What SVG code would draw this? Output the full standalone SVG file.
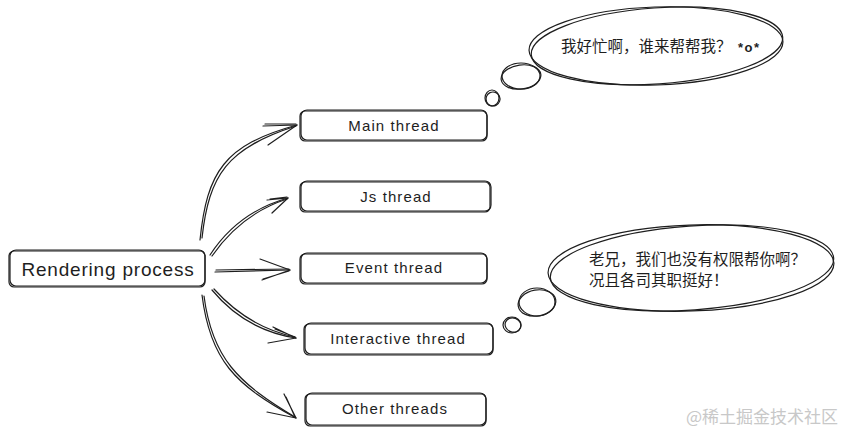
<svg xmlns="http://www.w3.org/2000/svg" width="844" height="433" viewBox="0 0 844 433">
<style>
.s{fill:none;stroke:#1e1e1e;stroke-width:1.2;stroke-linecap:round;stroke-linejoin:round}
.t{font-family:"Liberation Sans","DejaVu Sans",sans-serif;fill:#1e1e1e;text-anchor:middle}
.c{font-family:"Noto Sans CJK SC",sans-serif;fill:#1e1e1e;font-size:15.5px}
</style>
<rect width="844" height="433" fill="#ffffff"/>
<g id="connectors">
  <g id="arrow-main">
    <path class="s" d="M200,240 C207,172 224,145 297,125"/>
    <path class="s" d="M202,238 C209,175 227,148 296,126"/>
    <path class="s" d="M297,125 L263,126 M297,125 L268,145 M296,124 L265,124"/>
  </g>
  <g id="arrow-js">
    <path class="s" d="M210,255 Q238,212 288,198"/>
    <path class="s" d="M212,256 Q241,214 287,199"/>
    <path class="s" d="M288,198 L267,200 M288,198 L272,213 M287,197 L270,199"/>
  </g>
  <g id="arrow-event">
    <path class="s" d="M215,272 L290,270"/>
    <path class="s" d="M216,270 L289,269"/>
    <path class="s" d="M290,270 L260,259 M290,270 L262,280 M289,271 L263,279"/>
  </g>
  <g id="arrow-interactive">
    <path class="s" d="M212,290 Q245,330 296,338"/>
    <path class="s" d="M214,289 Q248,327 295,337"/>
    <path class="s" d="M296,338 L273,327 M296,338 L268,343 M295,337 L275,329"/>
  </g>
  <g id="arrow-other">
    <path class="s" d="M202,295 C210,360 235,385 296,418"/>
    <path class="s" d="M204,296 C212,358 238,383 295,417"/>
    <path class="s" d="M296,418 L284,394 M296,418 L267,412 M295,417 L286,397"/>
  </g>
</g>
<g id="node-rendering">
  <rect class="s" x="9" y="251" width="196" height="36" rx="5"/>
  <rect class="s" x="10" y="250" width="195" height="36" rx="6"/>
  <text class="t" x="108" y="276" font-size="19" letter-spacing="0.8">Rendering process</text>
</g>
<g id="node-main">
  <rect class="s" x="300" y="111" width="187" height="30" rx="5"/>
  <rect class="s" x="301" y="110" width="186" height="30" rx="6"/>
  <text class="t" x="394" y="131" font-size="15" letter-spacing="1.1">Main thread</text>
</g>
<g id="node-js">
  <rect class="s" x="300" y="182" width="190" height="30" rx="5"/>
  <rect class="s" x="301" y="181" width="190" height="30" rx="6"/>
  <text class="t" x="396" y="202" font-size="15" letter-spacing="1.1">Js thread</text>
</g>
<g id="node-event">
  <rect class="s" x="300" y="254" width="187" height="30" rx="5"/>
  <rect class="s" x="301" y="253" width="186" height="30" rx="6"/>
  <text class="t" x="394" y="273" font-size="15" letter-spacing="1.1">Event thread</text>
</g>
<g id="node-interactive">
  <rect class="s" x="304" y="324" width="189" height="31" rx="5"/>
  <rect class="s" x="305" y="323" width="188" height="31" rx="6"/>
  <text class="t" x="398" y="344" font-size="15" letter-spacing="1.1">Interactive thread</text>
</g>
<g id="node-other">
  <rect class="s" x="305" y="394" width="181" height="32" rx="5"/>
  <rect class="s" x="306" y="393" width="180" height="32" rx="6"/>
  <text class="t" x="395" y="414" font-size="15" letter-spacing="1.1">Other threads</text>
</g>
<g id="bubble-1">
  <ellipse class="s" cx="656" cy="46" rx="127" ry="39" transform="rotate(-2 656 46)"/>
  <ellipse class="s" cx="657" cy="46" rx="126" ry="38" transform="rotate(-4 656 46)"/>
  <ellipse class="s" cx="521" cy="76" rx="19" ry="13"/>
  <ellipse class="s" cx="521" cy="77" rx="20" ry="12" transform="rotate(-8 521 77)"/>
  <ellipse class="s" cx="492" cy="98" rx="7" ry="8"/>
  <ellipse class="s" cx="493" cy="99" rx="7" ry="7" transform="rotate(20 493 99)"/>
  <text class="c" x="561" y="52">我好忙啊，谁来帮帮我？<tspan x="738" font-family="Liberation Sans,sans-serif" font-size="13" font-weight="bold" letter-spacing="1.5">*o*</tspan></text>
</g>
<g id="bubble-2">
  <ellipse class="s" cx="691" cy="268" rx="143" ry="43" transform="rotate(-2 691 268)"/>
  <ellipse class="s" cx="692" cy="268" rx="142" ry="42" transform="rotate(-4 691 268)"/>
  <ellipse class="s" cx="537" cy="302" rx="18" ry="14"/>
  <ellipse class="s" cx="537" cy="303" rx="19" ry="13" transform="rotate(-10 537 303)"/>
  <ellipse class="s" cx="512" cy="325" rx="9" ry="8"/>
  <ellipse class="s" cx="513" cy="325" rx="8" ry="7" transform="rotate(20 513 325)"/>
  <text class="c" x="589" y="265" font-size="16">老兄，我们也没有权限帮你啊？</text>
  <text class="c" x="589" y="286" font-size="16">况且各司其职挺好！</text>
</g>
<text x="838" y="423" text-anchor="end" font-family="Noto Sans CJK SC,sans-serif" font-size="17" fill="#c8c8c8">@稀土掘金技术社区</text>
</svg>
